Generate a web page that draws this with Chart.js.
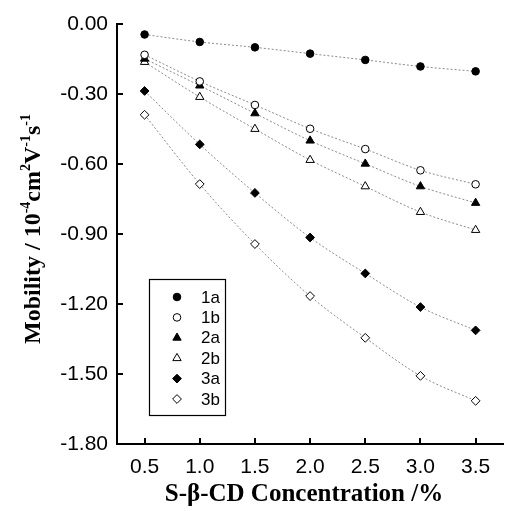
<!DOCTYPE html>
<html><head><meta charset="utf-8">
<script src="https://cdn.jsdelivr.net/npm/chart.js@4/dist/chart.umd.min.js"></script>
<style>html,body{margin:0;padding:0;background:#fff;}#wrap{width:509px;height:511px;position:relative;}</style>
</head><body><div id="wrap"><canvas id="c"></canvas></div>
<script>
const concentrations = [0.5, 1.0, 1.5, 2.0, 2.5, 3.0, 3.5];
const mob1a = [-0.045, -0.077, -0.100, -0.127, -0.154, -0.182, -0.203];
const mob1b = [-0.132, -0.246, -0.347, -0.449, -0.536, -0.627, -0.687];
const mob2a = [-0.149, -0.264, -0.383, -0.500, -0.599, -0.696, -0.767];
const mob2b = [-0.163, -0.313, -0.450, -0.583, -0.696, -0.806, -0.883];
const mob3a = [-0.287, -0.516, -0.724, -0.915, -1.069, -1.213, -1.313];
const mob3b = [-0.389, -0.686, -0.943, -1.166, -1.345, -1.508, -1.615];
const seriesNames = ['1a', '1b', '2a', '2b', '3a', '3b'];
const xTicks = [0.5, 1.0, 1.5, 2.0, 2.5, 3.0, 3.5];
const yTicks = [0.00, -0.30, -0.60, -0.90, -1.20, -1.50, -1.80];
const xTitle = 'S-\u03B2-CD Concentration /%';
const yTitleParts = [['Mobility / 10', 0], ['-4', 1], ['cm', 0], ['2', 1], ['V', 0], ['-1', 1], ['s', 0], ['-1', 1]];

const allSeries = [mob1a, mob1b, mob2a, mob2b, mob3a, mob3b];
const styles = [
  {ps: 'circle', fill: '#000', r: 3.8},
  {ps: 'circle', fill: '#fff', r: 3.8},
  {ps: 'triangle', fill: '#000', r: 4.8},
  {ps: 'triangle', fill: '#fff', r: 4.8},
  {ps: 'rectRot', fill: '#000', r: 4.4},
  {ps: 'rectRot', fill: '#fff', r: 4.4}
];

const datasets = allSeries.map((arr, i) => ({
  label: seriesNames[i],
  data: concentrations.map((x, j) => ({x: x, y: arr[j]})),
  showLine: true,
  borderColor: '#8a8a8a',
  borderWidth: 1,
  borderDash: [2, 2],
  cubicInterpolationMode: 'monotone',
  pointStyle: styles[i].ps,
  pointRadius: styles[i].r,
  pointHoverRadius: styles[i].r,
  pointBackgroundColor: styles[i].fill,
  pointBorderColor: '#000',
  pointBorderWidth: 1,
  fill: false
}));

const extras = {
  id: 'extras',
  afterDraw(chart) {
    const ctx = chart.ctx;
    const xs = chart.scales.x, ys = chart.scales.y;
    const ca = chart.chartArea;
    ctx.save();
    // inward tick marks
    ctx.strokeStyle = '#000';
    ctx.lineWidth = 2;
    ctx.beginPath();
    xTicks.forEach(v => {
      const px = Math.round(xs.getPixelForValue(v));
      ctx.moveTo(px, ca.bottom); ctx.lineTo(px, ca.bottom - 6);
    });
    yTicks.forEach(v => {
      const py = Math.round(ys.getPixelForValue(v));
      ctx.moveTo(ca.left, py); ctx.lineTo(ca.left + 6, py);
    });
    ctx.stroke();

    // legend
    const lx = 149.5, ly = 279.5, lw = 76, lh = 136;
    ctx.fillStyle = '#fff';
    ctx.fillRect(lx, ly, lw, lh);
    ctx.lineWidth = 1.2;
    ctx.strokeRect(lx, ly, lw, lh);
    ctx.font = '17px "Liberation Sans", Arial, sans-serif';
    ctx.textBaseline = 'middle';
    ctx.textAlign = 'left';
    seriesNames.forEach((n, i) => {
      const yy = 297 + i * 20.4;
      ctx.fillStyle = styles[i].fill;
      ctx.strokeStyle = '#000';
      ctx.lineWidth = 1;
      Chart.helpers.drawPoint(ctx, {pointStyle: styles[i].ps, radius: styles[i].r, rotation: 0, borderWidth: 1}, 177, yy);
      ctx.fillStyle = '#000';
      ctx.fillText(n, 201, yy + 1);
    });

    // x title
    ctx.fillStyle = '#000';
    ctx.font = 'bold 25px "Liberation Serif", "Times New Roman", serif';
    ctx.textAlign = 'center';
    ctx.textBaseline = 'middle';
    ctx.fillText(xTitle, 304, 495);

    // y title with superscripts
    const mainFont = 'bold 24px "Liberation Serif", "Times New Roman", serif';
    const supFont = 'bold 14px "Liberation Serif", "Times New Roman", serif';
    let total = 0;
    yTitleParts.forEach(p => { ctx.font = p[1] ? supFont : mainFont; total += ctx.measureText(p[0]).width; });
    ctx.translate(32, 229);
    ctx.rotate(-Math.PI / 2);
    ctx.textAlign = 'left';
    ctx.textBaseline = 'alphabetic';
    let cx = -total / 2;
    yTitleParts.forEach(p => {
      ctx.font = p[1] ? supFont : mainFont;
      ctx.fillText(p[0], cx, p[1] ? -2 : 8);
      cx += ctx.measureText(p[0]).width;
    });
    ctx.restore();
  }
};

new Chart(document.getElementById('c'), {
  type: 'scatter',
  data: {datasets: datasets},
  options: {
    responsive: true,
    maintainAspectRatio: false,
    animation: false,
    layout: {padding: {top: 24, right: 0, left: 0, bottom: 0}},
    plugins: {legend: {display: false}, tooltip: {enabled: false}, title: {display: false}},
    scales: {
      x: {
        type: 'linear', min: 0.25, max: 3.75,
        afterBuildTicks: s => { s.ticks = xTicks.map(v => ({value: v})); },
        afterFit: s => { s.height = 67; },
        grid: {display: false, drawTicks: false},
        border: {display: true, color: '#000', width: 2},
        ticks: {color: '#000', padding: 11, font: {family: '"Liberation Sans", Arial, sans-serif', size: 21}, callback: v => Number(v).toFixed(1), maxRotation: 0, autoSkip: false}
      },
      y: {
        type: 'linear', min: -1.8, max: 0,
        afterBuildTicks: s => { s.ticks = yTicks.map(v => ({value: v})); },
        afterFit: s => { s.width = 117; },
        grid: {display: false, drawTicks: false},
        border: {display: true, color: '#000', width: 2},
        ticks: {color: '#000', padding: 9, font: {family: '"Liberation Sans", Arial, sans-serif', size: 21}, callback: v => Number(v).toFixed(2), autoSkip: false}
      }
    }
  },
  plugins: [extras]
});
</script></body></html>
